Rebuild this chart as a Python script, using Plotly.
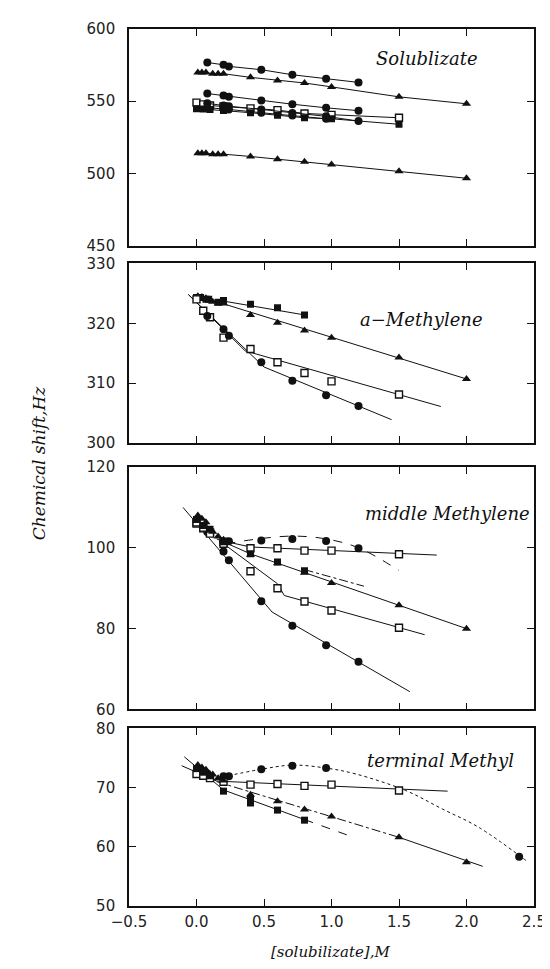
import plotly.graph_objects as go

# ---------------- shared x positions ----------------
circ_x = [0.08, 0.2, 0.24, 0.48, 0.71, 0.96, 1.2]
tri_x = [0.01, 0.04, 0.07, 0.12, 0.16, 0.2, 0.4, 0.6, 0.8, 1.0, 1.5, 2.0]
sq_x = [0.0, 0.05, 0.1, 0.2, 0.4, 0.6, 0.8, 1.0, 1.5]

# ---------------- Panel 1: Solublizate ----------------
s_circ_a_y = [576.8, 575.2, 574.1, 571.8, 568.3, 565.6, 563.0]
s_tri_a_y = [569.9, 569.9, 569.9, 569.0, 569.0, 569.0, 566.5, 564.4, 562.6, 559.9, 553.0, 548.2]
s_circ_b_y = [555.3, 553.9, 553.0, 550.4, 547.9, 545.4, 543.4]
s_circ_c_y = [548.5, 547.0, 546.5, 544.3, 541.8, 539.5, 536.2]
s_circ_d_x = [0.08, 0.2, 0.24, 0.48, 0.71, 0.96]
s_circ_d_y = [545.5, 544.8, 544.3, 542.0, 540.0, 537.8]
s_sqo_y = [549.0, 547.8, 547.0, 546.3, 545.0, 543.8, 541.5, 540.5, 538.5]
s_sqf_y = [544.7, 544.5, 544.2, 543.5, 542.0, 540.2, 538.5, 537.8, 534.0]
s_tri_b_y = [514.0, 514.0, 514.0, 513.3, 513.3, 513.3, 511.7, 509.8, 508.0, 506.2, 501.4, 496.6]

# ---------------- Panel 2: a-Methylene ----------------
a_sqf_x = [0.0, 0.03, 0.07, 0.09, 0.16, 0.2, 0.4, 0.6, 0.8]
a_sqf_y = [324.3, 324.3, 324.0, 324.0, 323.5, 323.8, 323.2, 322.6, 321.4]
a_tri_y = [324.5, 324.4, 324.2, 323.6, 323.3, 323.3, 321.4, 320.1, 318.8, 317.6, 314.3, 310.7]
a_sqo_y = [324.0, 322.1, 321.0, 317.6, 315.7, 313.5, 311.7, 310.3, 308.1]
a_circ_y = [321.2, 319.0, 317.9, 313.5, 310.4, 308.0, 306.2]
a_circ_fit_x = [-0.06, 0.5, 1.445]
a_circ_fit_y = [324.8, 312.7, 303.9]
a_sqo_fit_x = [-0.06, 0.36, 1.81]
a_sqo_fit_y = [324.8, 315.4, 306.1]
a_tri_fit_x = [0.15, 2.0]
a_tri_fit_y = [323.6, 310.7]
a_sqf_fit_x = [0.15, 0.8]
a_sqf_fit_y = [323.9, 321.4]

# ---------------- Panel 3: middle Methylene ----------------
m_circ_up_y = [104.3, 101.5, 101.6, 101.8, 102.2, 101.7, 99.9]
m_circ_low_y = [103.9, 99.1, 96.9, 86.8, 80.7, 75.9, 71.8]
m_sqo_up_y = [106.0, 104.8, 103.8, 101.5, 99.9, 99.9, 99.3, 99.3, 98.4]
m_sqo_low_y = [106.3, 105.0, 103.5, 101.0, 94.2, 90.0, 86.7, 84.5, 80.2]
m_sqf_x = [0.0, 0.05, 0.1, 0.2, 0.4, 0.6, 0.8]
m_sqf_y = [107.0, 105.5, 104.6, 101.5, 98.5, 96.5, 94.3]
m_tri_y = [108.0, 107.2, 106.3, 104.0, 102.8, 102.0, 98.3, 96.2, 93.8, 91.3, 85.8, 80.0]
m_circ_fit_x = [-0.1, 0.56, 1.58]
m_circ_fit_y = [110.0, 84.1, 64.4]
m_sqo_low_fit_x = [0.18, 0.6, 0.65, 1.69]
m_sqo_low_fit_y = [101.5, 91.1, 88.2, 78.5]
m_sqo_up_fit_x = [0.18, 0.4, 1.78]
m_sqo_up_fit_y = [101.8, 100.2, 98.2]
m_tri_fit_x = [0.15, 0.4, 2.0]
m_tri_fit_y = [102.2, 98.5, 80.0]
m_sqf_fit_x = [0.8, 1.24]
m_sqf_fit_y = [94.6, 90.5]
m_circ_curve_x = [0.22, 0.48, 0.72, 0.96, 1.2, 1.5]
m_circ_curve_y = [101.0, 102.3, 102.9, 102.2, 100.0, 94.4]

# ---------------- Panel 4: terminal Methyl ----------------
t_circ_x = [0.08, 0.2, 0.24, 0.48, 0.71, 0.96, 2.39]
t_circ_y = [72.4, 71.9, 71.9, 73.1, 73.7, 73.3, 58.3]
t_sqo_y = [72.3, 72.0, 71.6, 71.0, 70.5, 70.6, 70.3, 70.5, 69.5]
t_tri_y = [73.8, 73.4, 73.0, 72.2, 71.6, 71.2, 68.8, 67.7, 66.3, 65.1, 61.6, 57.4]
t_sqf_x = [0.0, 0.05, 0.1, 0.2, 0.4, 0.4, 0.6, 0.8]
t_sqf_y = [73.2, 72.6, 72.0, 69.4, 68.2, 67.4, 66.2, 64.5]
t_sqo_fit_x = [-0.11, 0.15, 1.86]
t_sqo_fit_y = [73.7, 71.1, 69.4]
t_sqf_fit_x = [-0.09, 0.2, 0.8]
t_sqf_fit_y = [75.2, 69.6, 64.6]
t_sqf_ext_x = [0.8, 1.14]
t_sqf_ext_y = [64.6, 61.8]
t_tri_fit_x = [0.15, 1.5]
t_tri_fit_y = [71.0, 61.6]
t_tri_ext_x = [1.5, 2.12]
t_tri_ext_y = [61.6, 56.7]
t_circ_curve_x = [0.15, 0.48, 0.71, 0.96, 1.18, 1.55, 1.82, 2.09, 2.44]
t_circ_curve_y = [71.6, 73.1, 73.8, 73.3, 72.3, 69.5, 66.4, 63.3, 57.7]

x_ticks = [-0.5, 0.0, 0.5, 1.0, 1.5, 2.0, 2.5]
x_tick_text = ["\u22120.5", "0.0", "0.5", "1.0", "1.5", "2.0", "2.5"]

panel_ranges = [[450, 600], [300, 330], [60, 120], [50, 80]]
panel_ticks = [[450, 500, 550, 600], [300, 310, 320, 330], [60, 80, 100, 120], [50, 60, 70, 80]]
panel_domains = [[0.7531, 1.0], [0.5279, 0.7327], [0.2241, 0.5006], [0.0, 0.2025]]
panel_labels = ["Solublizate", "a\u2212Methylene", "middle Methylene", "terminal Methyl"]

BLACK = "#111111"
fig = go.Figure()

MK = {
    "circle": dict(symbol="circle", size=8, color=BLACK, line=dict(width=0)),
    "tri": dict(symbol="triangle-up", size=8, color=BLACK, line=dict(width=0)),
    "sqf": dict(symbol="square", size=7, color=BLACK, line=dict(width=0)),
    "sqo": dict(symbol="square", size=7, color="white", line=dict(width=1.4, color=BLACK)),
}


def pts(x, y, kind, ax, lines=False):
    fig.add_trace(go.Scatter(
        x=x, y=y, mode="lines+markers" if lines else "markers",
        marker=MK[kind], line=dict(color=BLACK, width=1),
        xaxis="x" + ax, yaxis="y" + ax, showlegend=False, hoverinfo="skip"))


def ln(x, y, ax, dash="solid", shape="linear", width=1):
    fig.add_trace(go.Scatter(
        x=x, y=y, mode="lines", line=dict(color=BLACK, width=width, dash=dash, shape=shape),
        xaxis="x" + ax, yaxis="y" + ax, showlegend=False, hoverinfo="skip"))


# Panel 1
pts(circ_x, s_circ_a_y, "circle", "", True)
pts(tri_x, s_tri_a_y, "tri", "", True)
pts(circ_x, s_circ_b_y, "circle", "", True)
pts(sq_x, s_sqo_y, "sqo", "", True)
pts(sq_x, s_sqf_y, "sqf", "", True)
pts(circ_x, s_circ_c_y, "circle", "", True)
pts(s_circ_d_x, s_circ_d_y, "circle", "", True)
pts(tri_x, s_tri_b_y, "tri", "", True)

# Panel 2
ln(a_circ_fit_x, a_circ_fit_y, "2")
ln(a_sqo_fit_x, a_sqo_fit_y, "2")
ln(a_tri_fit_x, a_tri_fit_y, "2")
ln(a_sqf_fit_x, a_sqf_fit_y, "2")
pts(a_sqf_x, a_sqf_y, "sqf", "2")
pts(tri_x, a_tri_y, "tri", "2")
pts(sq_x, a_sqo_y, "sqo", "2")
pts(circ_x, a_circ_y, "circle", "2")

# Panel 3
ln(m_circ_fit_x, m_circ_fit_y, "3")
ln(m_sqo_low_fit_x, m_sqo_low_fit_y, "3")
ln(m_sqo_up_fit_x, m_sqo_up_fit_y, "3")
ln(m_tri_fit_x, m_tri_fit_y, "3")
ln(m_sqf_fit_x, m_sqf_fit_y, "3", dash="dashdot")
ln(m_circ_curve_x, m_circ_curve_y, "3", dash="dash", shape="spline")
pts(circ_x, m_circ_up_y, "circle", "3")
pts(circ_x, m_circ_low_y, "circle", "3")
pts(sq_x, m_sqo_up_y, "sqo", "3")
pts(sq_x, m_sqo_low_y, "sqo", "3")
pts(m_sqf_x, m_sqf_y, "sqf", "3")
pts(tri_x, m_tri_y, "tri", "3")

# Panel 4
ln(t_sqo_fit_x, t_sqo_fit_y, "4")
ln(t_sqf_fit_x, t_sqf_fit_y, "4")
ln(t_sqf_ext_x, t_sqf_ext_y, "4", dash="dash")
ln(t_tri_fit_x, t_tri_fit_y, "4", dash="dashdot")
ln(t_tri_ext_x, t_tri_ext_y, "4")
ln(t_circ_curve_x, t_circ_curve_y, "4", dash="dot", shape="spline")
pts(t_circ_x, t_circ_y, "circle", "4")
pts(sq_x, t_sqo_y, "sqo", "4")
pts(tri_x, t_tri_y, "tri", "4")
pts(t_sqf_x, t_sqf_y, "sqf", "4")

tick_font = dict(family="DejaVu Sans", size=15, color="#222222")
axis_common = dict(showline=True, linecolor=BLACK, linewidth=1.6, mirror="ticks",
                   ticks="inside", ticklen=7, tickwidth=1.2, tickcolor=BLACK,
                   showgrid=False, zeroline=False, tickfont=tick_font)

layout = dict(
    width=550, height=969,
    margin=dict(l=121, r=22, t=19, b=71),
    paper_bgcolor="white", plot_bgcolor="white",
    showlegend=False,
)
suffixes = ["", "2", "3", "4"]
for i, s in enumerate(suffixes):
    layout["xaxis" + s] = dict(
        axis_common, range=[-0.5, 2.5], tickvals=x_ticks, ticktext=x_tick_text,
        anchor="y" + s, showticklabels=(i == 3), ticklabelstandoff=1,
        **({} if i == 0 else {"matches": "x"}))
    layout["yaxis" + s] = dict(
        axis_common, range=panel_ranges[i], tickvals=panel_ticks[i],
        domain=panel_domains[i], anchor="x" + s, ticklabelstandoff=9)

fig.update_layout(**layout)

label_font = dict(family="DejaVu Serif", size=18, color=BLACK, style="italic")
label_pos = [(1.71, 579.5, "center"), (1.67, 320.6, "center"), (1.23, 108.5, "left"), (1.25, 74.6, "left")]
for i, s in enumerate(suffixes):
    lx, ly, anc = label_pos[i]
    fig.add_annotation(x=lx, y=ly, xref="x" + s, yref="y" + s, text=panel_labels[i],
                       showarrow=False, xanchor=anc, yanchor="middle", font=label_font)

fig.add_annotation(x=-0.222, y=0.505, xref="paper", yref="paper", text="Chemical shift,Hz",
                   textangle=-90, showarrow=False, xanchor="center", yanchor="middle",
                   font=dict(family="DejaVu Serif", size=17, color=BLACK, style="italic"))
fig.add_annotation(x=0.497, y=-0.053, xref="paper", yref="paper", text="[solubilizate],M",
                   showarrow=False, xanchor="center", yanchor="middle",
                   font=dict(family="DejaVu Serif", size=15, color=BLACK, style="italic"))

fig.write_html("out.html")
